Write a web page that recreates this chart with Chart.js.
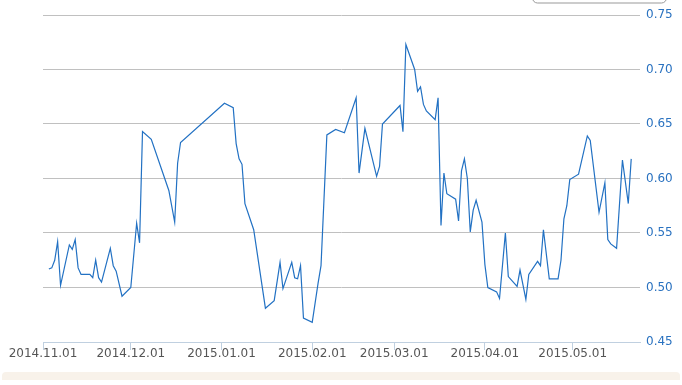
<!DOCTYPE html>
<html>
<head>
<meta charset="utf-8">
<script src="https://cdn.jsdelivr.net/npm/chart.js@4.4.1/dist/chart.umd.min.js"></script>
<style>
html, body { margin: 0; padding: 0; background: #fff; }
#wrap { position: relative; width: 682px; height: 385px; }
#strip { position: absolute; left: 2px; right: 2px; top: 372px; height: 8px; background: #f8f2ea; border-radius: 4px 4px 0 0; }
</style>
</head>
<body>
<div id="wrap"><canvas id="chart"></canvas><div id="strip"></div></div>
<script>
// days since 2014-11-01
const dayIndex = [2, 3, 4, 5, 6, 9, 10, 11, 12, 13, 16, 17, 18, 19, 20, 23, 24, 25, 27, 30,
    32, 33, 34, 37, 43, 45, 46, 47, 62, 65, 66, 67, 68, 69, 72, 76, 79, 81, 82, 85,
    86, 87, 88, 89, 92, 94, 95, 97, 100, 103, 107, 108, 110, 114, 115, 116, 122, 123, 124, 127,
    128, 129, 130, 131, 134, 135, 136, 137, 138, 141, 142, 143, 144, 145, 146, 147, 148, 150, 151, 152,
    155, 156, 158, 159, 162, 163, 165, 166, 169, 170, 171, 173, 176, 177, 178, 179, 180, 183, 186, 187,
    190, 192, 193, 194, 196, 198, 200, 201];
const values = [0.517, 0.518, 0.525, 0.542, 0.502, 0.539, 0.535, 0.544, 0.518, 0.512, 0.512, 0.509, 0.525, 0.509, 0.505, 0.536, 0.520, 0.515, 0.492, 0.500,
    0.559, 0.541, 0.643, 0.636, 0.589, 0.560, 0.614, 0.633, 0.669, 0.665, 0.632, 0.618, 0.613, 0.577, 0.553, 0.481, 0.488, 0.523, 0.499, 0.523,
    0.509, 0.508, 0.520, 0.472, 0.468, 0.504, 0.520, 0.640, 0.645, 0.642, 0.674, 0.605, 0.646, 0.602, 0.611, 0.650, 0.667, 0.643, 0.723, 0.700,
    0.680, 0.684, 0.668, 0.662, 0.654, 0.674, 0.557, 0.605, 0.586, 0.581, 0.561, 0.607, 0.618, 0.600, 0.551, 0.571, 0.580, 0.560, 0.521, 0.500,
    0.496, 0.490, 0.550, 0.510, 0.501, 0.516, 0.489, 0.512, 0.524, 0.520, 0.553, 0.508, 0.508, 0.525, 0.563, 0.575, 0.599, 0.604, 0.639, 0.635,
    0.569, 0.596, 0.544, 0.540, 0.536, 0.617, 0.577, 0.618];

const tickDays = [0, 30, 61, 92, 120, 151, 181];
const tickLabels = ['2014.11.01', '2014.12.01', '2015.01.01', '2015.02.01', '2015.03.01', '2015.04.01', '2015.05.01'];

Chart.defaults.font.family = '"DejaVu Sans", Verdana, sans-serif';
Chart.defaults.font.size = 12;

// the cut-off box at the top right
const topBox = {
    id: 'topBox',
    afterDraw(chart) {
        const c = chart.ctx;
        c.save();
        c.fillStyle = '#fff';
        c.strokeStyle = '#999';
        c.lineWidth = 1;
        c.beginPath();
        c.roundRect(532.5, -10.5, 134, 13.5, 5);
        c.fill();
        c.stroke();
        c.restore();
    }
};

const ctx = document.getElementById('chart').getContext('2d');
const chart = new Chart(ctx, {
    type: 'line',
    data: {
        datasets: [{
            data: dayIndex.map((d, i) => ({ x: d, y: values[i] })),
            borderColor: '#2271c3',
            borderWidth: 1.2,
            pointRadius: 0,
            tension: 0,
            fill: false
        }]
    },
    options: {
        responsive: true,
        maintainAspectRatio: false,
        animation: false,
        layout: { padding: { top: 15, left: 43, right: 0, bottom: 0 } },
        plugins: { legend: { display: false }, tooltip: { enabled: false } },
        scales: {
            x: {
                type: 'linear',
                min: 0,
                max: 204,
                afterBuildTicks: (scale) => { scale.ticks = tickDays.map(v => ({ value: v })); },
                afterFit: (scale) => { scale.height = 43; },
                ticks: {
                    autoSkip: false,
                    maxRotation: 0,
                    color: '#555555',
                    padding: -3,
                    callback: (v) => tickLabels[tickDays.indexOf(v)]
                },
                grid: { drawOnChartArea: false, drawTicks: true, tickLength: 8, color: '#c0d0e0' },
                border: { color: '#c0d0e0' }
            },
            y: {
                position: 'right',
                min: 0.45,
                max: 0.75,
                afterFit: (scale) => { scale.width = 42; },
                ticks: {
                    stepSize: 0.05,
                    color: '#2a72c0',
                    padding: 6,
                    callback: (v) => v.toFixed(2)
                },
                grid: { color: '#c0c0c0', drawTicks: false },
                border: { display: false }
            }
        }
    },
    plugins: [topBox]
});
</script>
</body>
</html>
